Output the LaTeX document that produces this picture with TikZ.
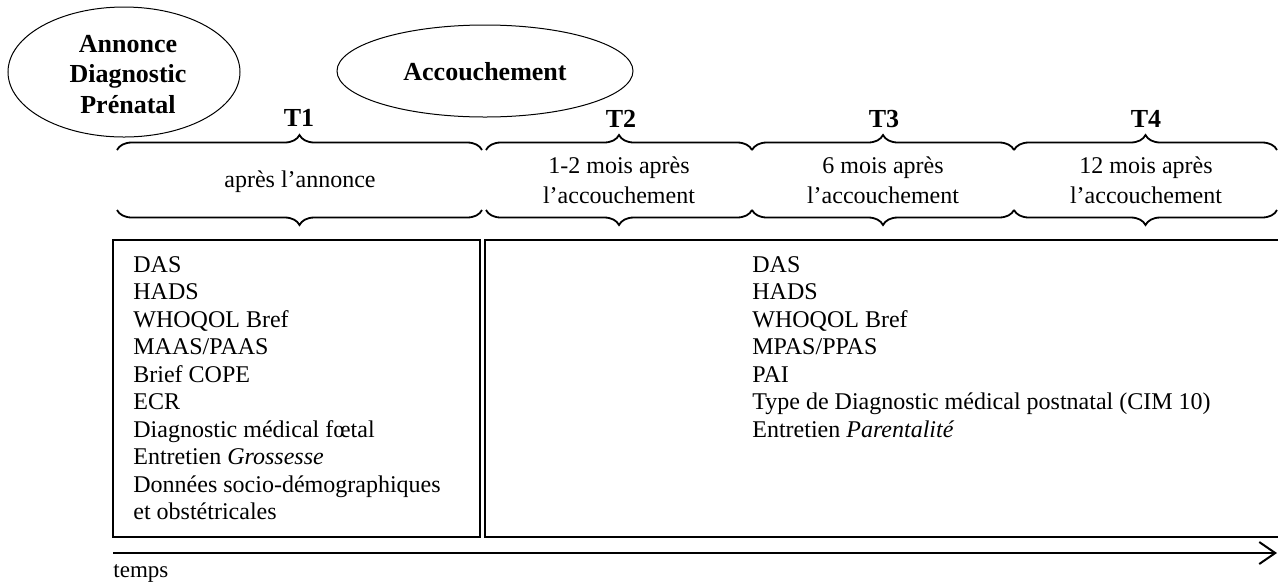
\documentclass[tikz,border=0pt]{standalone}
\usepackage{fontspec}
\setmainfont{Liberation Serif}
\usetikzlibrary{decorations.pathreplacing,shapes.geometric,arrows.meta}
\begin{document}
\begin{tikzpicture}[x=0.5pt,y=-0.5pt,
 body/.style={inner sep=0pt, anchor=base west, font=\fontsize{12pt}{13.75pt}\selectfont},
 ctr/.style={inner sep=0pt, anchor=base, font=\fontsize{12pt}{15pt}\selectfont},
 ttl/.style={inner sep=0pt, anchor=base, font=\fontsize{13pt}{15pt}\selectfont\bfseries},
 brc/.style={decorate, decoration={brace, amplitude=7.5pt}, line width=0.9pt},
 evt/.style={draw, ellipse, line width=0.5pt, inner sep=0pt},
 boxline/.style={draw, line width=1pt}]
\useasboundingbox (0,0) rectangle (1278,585);
\clip (0,0) rectangle (1278,585);
% events
\node[evt, minimum width=116pt, minimum height=65pt] (e1) at (124,72) {};
\node[ttl] (e1a) at (128,52) {Annonce};
\node[ttl] (e1b) at (128,82) {Diagnostic};
\node[ttl] (e1c) at (128,113) {Prénatal};
\node[evt, minimum width=148pt, minimum height=46pt] (e2) at (485,71) {};
\node[ttl] (e2a) at (485,80) {Accouchement};
% time labels
\node[ttl] (t1) at (299,126) {T1};
\node[ttl] (t2) at (621,127) {T2};
\node[ttl] (t3) at (884,127) {T3};
\node[ttl] (t4) at (1146,127) {T4};
% braces top
\draw[brc] (117,150) -- (482,150);
\draw[brc] (486,150) -- (752,150);
\draw[brc] (752,150) -- (1014,150);
\draw[brc] (1014,150) -- (1277,150);
% braces bottom
\draw[brc] (482,210) -- (117,210);
\draw[brc] (752,210) -- (486,210);
\draw[brc] (1014,210) -- (752,210);
\draw[brc] (1277,210) -- (1014,210);
% period texts
\node[ctr] (p1) at (300,187) {après l’annonce};
\node[ctr] (p2a) at (619,173) {1-2 mois après};
\node[ctr] (p2b) at (619,203) {l’accouchement};
\node[ctr] (p3a) at (883,173) {6 mois après};
\node[ctr] (p3b) at (883,203) {l’accouchement};
\node[ctr] (p4a) at (1146,173) {12 mois après};
\node[ctr] (p4b) at (1146,203) {l’accouchement};
% boxes
\draw[boxline] (113,240) rectangle (480,537);
\draw[boxline] (485,240) rectangle (1290,537);
\foreach \t [count=\i] in {DAS, HADS, WHOQOL Bref, MAAS/PAAS, Brief COPE, ECR, Diagnostic médical fœtal, {Entretien \textit{Grossesse}}, Données socio-démographiques, et obstétricales}
  \node[body] (l\i) at (133,{272+27.5*(\i-1)}) {\t};
\foreach \t [count=\i] in {DAS, HADS, WHOQOL Bref, MPAS/PPAS, PAI, Type de Diagnostic médical postnatal (CIM 10), {Entretien \textit{Parentalité}}}
  \node[body] (r\i) at (752,{272+27.5*(\i-1)}) {\t};
% time axis
\coordinate (a0) at (113,553);
\coordinate (a1) at (1277,553);
\draw[line width=1pt, -{Straight Barb[length=8pt,width=11pt]}] (a0) -- (a1);
\node[inner sep=0pt, anchor=base west, font=\fontsize{11.5pt}{13pt}\selectfont] (tp) at (113,577) {temps};
\end{tikzpicture}
\end{document}
